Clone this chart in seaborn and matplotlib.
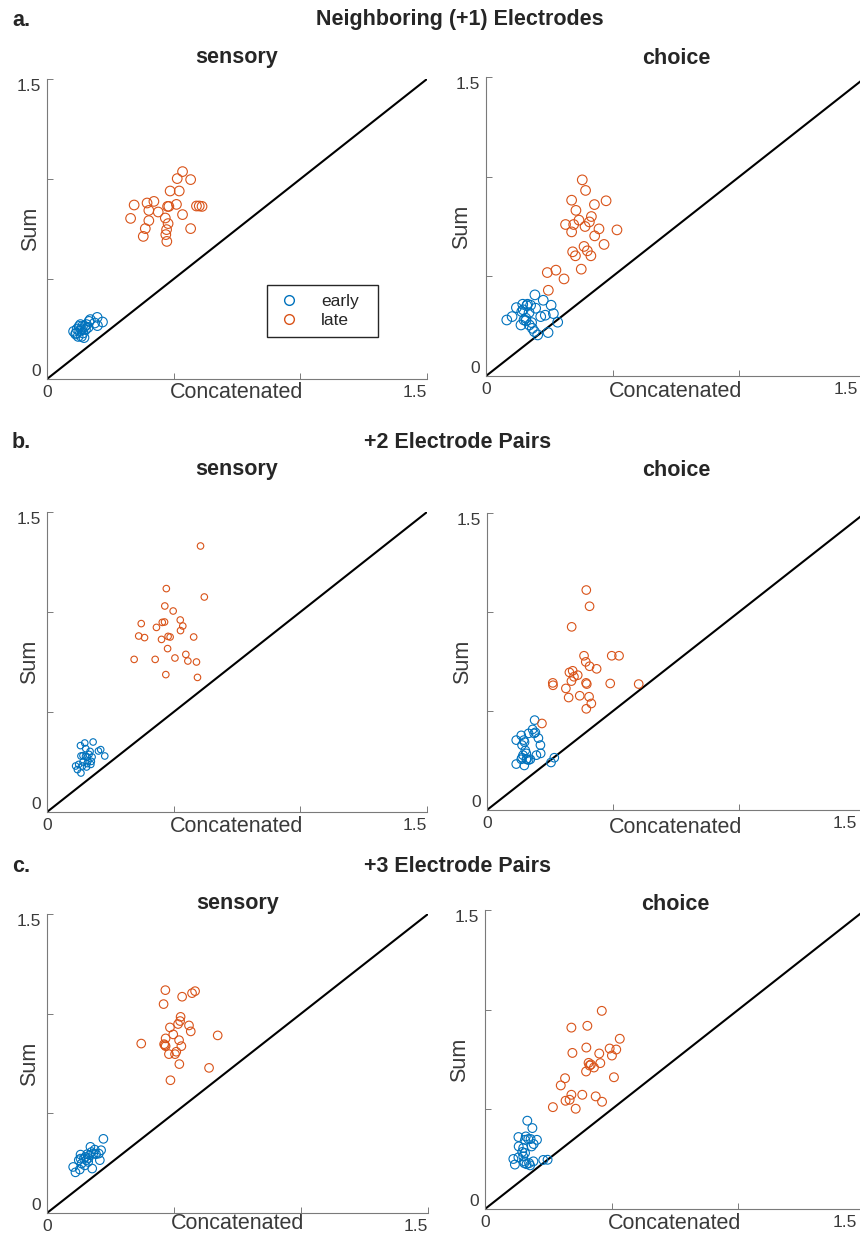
import numpy as np
import pandas as pd
import matplotlib
matplotlib.use("Agg")
import matplotlib.pyplot as plt
import matplotlib.transforms as mtransforms
from matplotlib.lines import Line2D
import seaborn as sns

# ---------------- data: Sum vs Concatenated per electrode set ----------------
a_sens_early_x = [0.105, 0.113, 0.119, 0.123, 0.127, 0.129, 0.132, 0.136, 0.140, 0.142, 0.146, 0.149,
                  0.156, 0.162, 0.166, 0.171, 0.188, 0.198, 0.199, 0.219, 0.116, 0.136, 0.152]
a_sens_early_y = [0.238, 0.225, 0.250, 0.213, 0.263, 0.238, 0.272, 0.213, 0.263, 0.230, 0.207, 0.263,
                  0.272, 0.258, 0.288, 0.297, 0.280, 0.308, 0.267, 0.285, 0.230, 0.247, 0.247]
a_sens_late_x = [0.330, 0.344, 0.380, 0.388, 0.395, 0.402, 0.402, 0.422, 0.439, 0.467, 0.469, 0.472, 0.473,
                 0.476, 0.478, 0.481, 0.486, 0.511, 0.514, 0.522, 0.535, 0.535, 0.567, 0.567, 0.590, 0.601, 0.612]
a_sens_late_y = [0.803, 0.870, 0.713, 0.752, 0.880, 0.843, 0.792, 0.888, 0.835, 0.805, 0.722, 0.747, 0.688,
                 0.863, 0.777, 0.863, 0.940, 0.873, 1.002, 0.940, 0.822, 1.037, 0.997, 0.752, 0.865, 0.865, 0.863]

a_choice_early_x = [0.082, 0.103, 0.120, 0.138, 0.141, 0.145, 0.147, 0.150, 0.157, 0.161, 0.164, 0.170, 0.171, 0.176,
                    0.180, 0.183, 0.191, 0.196, 0.204, 0.216, 0.226, 0.234, 0.245, 0.257, 0.266, 0.283, 0.193, 0.158]
a_choice_early_y = [0.281, 0.298, 0.343, 0.256, 0.323, 0.360, 0.332, 0.281, 0.290, 0.353, 0.360, 0.318, 0.256, 0.355,
                    0.268, 0.239, 0.223, 0.340, 0.206, 0.298, 0.380, 0.305, 0.218, 0.355, 0.313, 0.270, 0.407, 0.278]
a_choice_late_x = [0.242, 0.246, 0.276, 0.308, 0.314, 0.338, 0.338, 0.342, 0.346, 0.353, 0.355, 0.367, 0.376, 0.380,
                   0.387, 0.391, 0.393, 0.400, 0.408, 0.414, 0.416, 0.428, 0.429, 0.446, 0.466, 0.474, 0.517]
a_choice_late_y = [0.519, 0.430, 0.531, 0.487, 0.760, 0.882, 0.723, 0.623, 0.760, 0.603, 0.831, 0.782, 0.536, 0.984,
                   0.650, 0.750, 0.931, 0.628, 0.773, 0.603, 0.800, 0.860, 0.703, 0.738, 0.660, 0.879, 0.733]

b_sens_early_x = [0.113, 0.120, 0.125, 0.132, 0.134, 0.134, 0.140, 0.142, 0.149, 0.152, 0.153, 0.156, 0.159,
                  0.162, 0.166, 0.170, 0.173, 0.175, 0.178, 0.182, 0.203, 0.212, 0.228, 0.142, 0.158]
b_sens_early_y = [0.230, 0.212, 0.238, 0.332, 0.195, 0.280, 0.230, 0.282, 0.345, 0.278, 0.317, 0.225, 0.275,
                  0.255, 0.288, 0.303, 0.238, 0.253, 0.275, 0.350, 0.305, 0.312, 0.280, 0.250, 0.242]
b_sens_late_x = [0.344, 0.362, 0.372, 0.385, 0.427, 0.432, 0.452, 0.455, 0.464, 0.465, 0.469, 0.471, 0.476, 0.478,
                 0.486, 0.498, 0.505, 0.526, 0.527, 0.536, 0.548, 0.556, 0.579, 0.590, 0.594, 0.606, 0.621]
b_sens_late_y = [0.763, 0.880, 0.942, 0.872, 0.763, 0.923, 0.863, 0.948, 0.950, 1.030, 0.687, 1.117, 0.817, 0.878,
                 0.875, 1.005, 0.770, 0.960, 0.907, 0.930, 0.788, 0.755, 0.875, 0.750, 0.673, 1.330, 1.075]

b_choice_early_x = [0.116, 0.116, 0.136, 0.139, 0.139, 0.143, 0.146, 0.148, 0.149, 0.152, 0.156, 0.159, 0.165, 0.172,
                    0.165, 0.181, 0.187, 0.192, 0.189, 0.196, 0.204, 0.212, 0.213, 0.254, 0.267, 0.136, 0.156]
b_choice_early_y = [0.232, 0.353, 0.377, 0.328, 0.264, 0.277, 0.353, 0.225, 0.343, 0.301, 0.286, 0.257, 0.252, 0.256,
                    0.387, 0.407, 0.387, 0.392, 0.454, 0.277, 0.363, 0.328, 0.286, 0.240, 0.264, 0.256, 0.256]
b_choice_late_x = [0.218, 0.261, 0.262, 0.313, 0.324, 0.327, 0.335, 0.336, 0.340, 0.345, 0.360, 0.368, 0.385, 0.392,
                   0.393, 0.394, 0.394, 0.396, 0.405, 0.407, 0.407, 0.414, 0.435, 0.489, 0.495, 0.524, 0.602]
b_choice_late_y = [0.437, 0.642, 0.630, 0.614, 0.568, 0.695, 0.651, 0.925, 0.703, 0.673, 0.681, 0.577, 0.779, 0.748,
                   0.642, 1.111, 0.511, 0.636, 0.572, 0.726, 1.029, 0.538, 0.713, 0.639, 0.779, 0.779, 0.636]

c_sens_early_x = [0.103, 0.112, 0.129, 0.132, 0.132, 0.136, 0.145, 0.149, 0.151, 0.158, 0.162, 0.164, 0.168,
                  0.171, 0.175, 0.178, 0.182, 0.188, 0.193, 0.204, 0.208, 0.213, 0.222, 0.125, 0.155]
c_sens_early_y = [0.231, 0.204, 0.218, 0.293, 0.273, 0.248, 0.273, 0.239, 0.281, 0.295, 0.256, 0.276, 0.290,
                  0.332, 0.306, 0.223, 0.298, 0.318, 0.295, 0.298, 0.265, 0.315, 0.372, 0.265, 0.265]
c_sens_late_x = [0.371, 0.459, 0.461, 0.464, 0.466, 0.467, 0.467, 0.480, 0.484, 0.486, 0.497, 0.504, 0.509,
                 0.516, 0.520, 0.521, 0.524, 0.526, 0.529, 0.532, 0.559, 0.566, 0.571, 0.583, 0.638, 0.672]
c_sens_late_y = [0.850, 1.048, 0.847, 0.842, 1.118, 0.876, 0.837, 0.797, 0.931, 0.666, 0.896, 0.797, 0.809,
                 0.948, 0.867, 0.747, 0.963, 0.984, 0.837, 1.085, 0.941, 0.911, 1.103, 1.113, 0.728, 0.891]

c_choice_early_x = [0.112, 0.118, 0.132, 0.132, 0.133, 0.147, 0.151, 0.154, 0.155, 0.158, 0.161, 0.158, 0.164,
                    0.167, 0.171, 0.174, 0.178, 0.180, 0.184, 0.187, 0.191, 0.192, 0.205, 0.230, 0.247, 0.151]
c_choice_early_y = [0.251, 0.223, 0.259, 0.361, 0.314, 0.286, 0.264, 0.239, 0.230, 0.281, 0.364, 0.347, 0.225,
                    0.443, 0.351, 0.230, 0.219, 0.351, 0.314, 0.406, 0.239, 0.326, 0.347, 0.246, 0.247, 0.306]
c_choice_late_x = [0.268, 0.299, 0.316, 0.318, 0.334, 0.341, 0.341, 0.345, 0.358, 0.384, 0.399, 0.400, 0.404, 0.409,
                   0.413, 0.418, 0.430, 0.437, 0.451, 0.455, 0.461, 0.462, 0.492, 0.501, 0.509, 0.518, 0.532]
c_choice_late_y = [0.511, 0.620, 0.656, 0.543, 0.548, 0.573, 0.910, 0.783, 0.503, 0.573, 0.690, 0.810, 0.919, 0.733,
                   0.720, 0.725, 0.710, 0.565, 0.780, 0.732, 0.994, 0.538, 0.805, 0.770, 0.661, 0.800, 0.854]

epochs = ["early", "late"]
row_titles = ["Neighboring (+1) Electrodes", "+2 Electrode Pairs", "+3 Electrode Pairs"]
row_letters = ["a.", "b.", "c."]
col_titles = ["sensory", "choice"]
axis_ticks = [0, 0.5, 1.0, 1.5]
axis_tick_labels = ["0", "", "", "1.5"]

# ---------------- styling ----------------
sns.set_style("ticks")
plt.rcParams["font.family"] = ["Liberation Sans", "DejaVu Sans"]

PALETTE = {"early": "#0072BD", "late": "#D95319"}
AXIS_GRAY = "#7a7a7a"
TEXT_GRAY = "#3a3a3a"

W, H = 860, 1235
fig = plt.figure(figsize=(W / 100, H / 100), dpi=100)


def axes_px(left, top, right, bottom):
    return fig.add_axes([left / W, 1 - bottom / H, (right - left) / W, (bottom - top) / H])


# rect (px), marker area, early x/y, late x/y, ylabel x (axes coords),
# x-label baseline (px from top), shift of the "1.5" x label (px)
panels = [
    ((47, 79, 427, 379), 48, a_sens_early_x, a_sens_early_y, a_sens_late_x, a_sens_late_y, -0.016, 398, 0),
    ((486, 77, 866, 376), 48, a_choice_early_x, a_choice_early_y, a_choice_late_x, a_choice_late_y, -0.036, 397, -8),
    ((47, 512, 427, 812), 22, b_sens_early_x, b_sens_early_y, b_sens_late_x, b_sens_late_y, -0.018, 832, 0),
    ((487, 513, 865, 810), 38, b_choice_early_x, b_choice_early_y, b_choice_late_x, b_choice_late_y, -0.036, 833, -8),
    ((47, 914, 428, 1213), 38, c_sens_early_x, c_sens_early_y, c_sens_late_x, c_sens_late_y, -0.018, 1229, 0),
    ((485, 910, 865, 1209), 40, c_choice_early_x, c_choice_early_y, c_choice_late_x, c_choice_late_y, -0.040, 1229, -8),
]

axes = []
for rect, size, ex, ey, lx, ly, ylab_x, xlab_base, xshift in panels:
    ax = axes_px(*rect)
    axes.append(ax)
    df = pd.DataFrame({
        "Concatenated": np.r_[ex, lx],
        "Sum": np.r_[ey, ly],
        "epoch": ["early"] * len(ex) + ["late"] * len(lx),
    })
    sns.scatterplot(data=df, x="Concatenated", y="Sum", hue="epoch", hue_order=epochs,
                    palette=PALETTE, s=size, linewidth=0.8, legend=False, ax=ax, zorder=3)
    # open circles: outline in the hue colour, no fill
    for coll in ax.collections:
        coll.set_edgecolors(coll.get_facecolors())
        coll.set_facecolors("none")

    ax.axline((0, 0), slope=1, color="black", lw=1.5, zorder=2)
    ax.set_xlim(axis_ticks[0], axis_ticks[-1])
    ax.set_ylim(axis_ticks[0], axis_ticks[-1])
    sns.despine(ax=ax)
    for side in ("left", "bottom"):
        ax.spines[side].set_color(AXIS_GRAY)
        ax.spines[side].set_linewidth(0.8)

    ax.set_xticks(axis_ticks)
    ax.set_xticklabels(axis_tick_labels)
    ax.set_yticks(axis_ticks)
    ax.set_yticklabels(axis_tick_labels)
    ax.tick_params(direction="in", length=4, width=0.7, color=AXIS_GRAY,
                   labelcolor=TEXT_GRAY, labelsize=12.5, pad=4)
    xl = ax.get_xticklabels()
    xl[-1].set_ha("right")
    if xshift:
        xl[-1].set_transform(xl[-1].get_transform()
                             + mtransforms.ScaledTranslation(xshift / 100, 0, fig.dpi_scale_trans))
    yl = ax.get_yticklabels()
    yl[0].set_va("bottom")
    yl[-1].set_va("top")

    ax.set_xlabel("Concatenated", fontsize=15.5, color=TEXT_GRAY, va="baseline")
    ax.xaxis.set_label_coords(0.5, (rect[3] - xlab_base) / (rect[3] - rect[1]))
    ax.set_ylabel("Sum", fontsize=15.5, color=TEXT_GRAY)
    ax.yaxis.set_label_coords(ylab_x, 0.5)

# legend in the first panel
handles = [Line2D([], [], ls="none", marker="o", ms=7, mfc="none", mew=1.0,
                  mec=PALETTE[e], label=e) for e in epochs]
leg = axes[0].legend(handles=handles, loc="upper left", mode="expand",
                     bbox_to_anchor=(267 / W, 1 - 337 / H, 111 / W, 52 / H),
                     bbox_transform=fig.transFigure, borderaxespad=0, fontsize=12.5,
                     handlelength=1.5, handletextpad=1.1, borderpad=0.5, labelspacing=0.25,
                     fancybox=False, framealpha=1, edgecolor="#262626")
leg.get_frame().set_linewidth(1.0)

# row headings and panel titles
TITLE_SIZE = 15.5
row_y = [20, 442, 866]
panel_title_y = [58, 470, 904]
for r in range(3):
    fig.text(12 / W, 1 - row_y[r] / H, row_letters[r], fontsize=TITLE_SIZE, fontweight="bold",
             ha="left", va="center")
    fig.text((460 if r == 0 else 458) / W, 1 - row_y[r] / H, row_titles[r], fontsize=TITLE_SIZE,
             fontweight="bold", ha="center", va="center")
    for c in range(2):
        ax = axes[2 * r + c]
        pos = ax.get_position()
        fig.text(pos.x0 + pos.width / 2, 1 - panel_title_y[r] / H, col_titles[c],
                 fontsize=TITLE_SIZE, fontweight="bold", ha="center", va="center")

fig.savefig("out.png", dpi=100)
